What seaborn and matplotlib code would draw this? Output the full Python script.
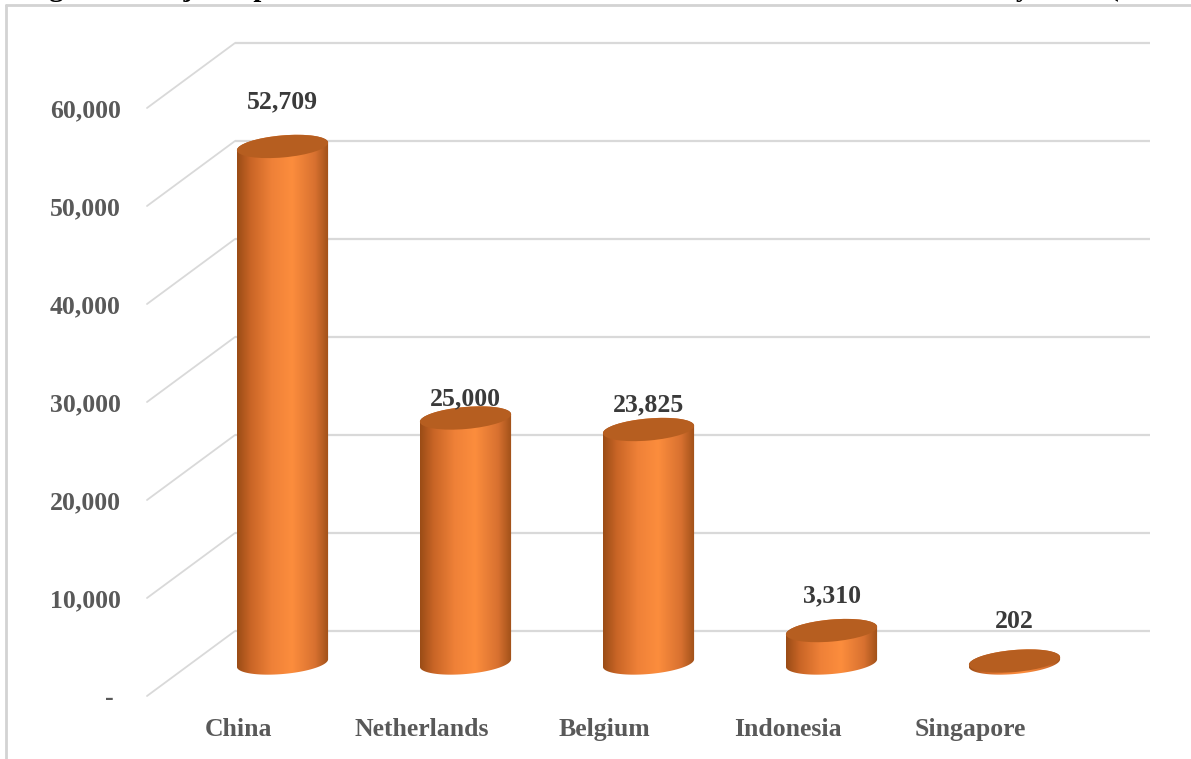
import numpy as np
import pandas as pd
import matplotlib
matplotlib.use("Agg")
import matplotlib.pyplot as plt
import matplotlib.transforms as mtransforms
from matplotlib.patches import Ellipse, PathPatch
from matplotlib.path import Path
from matplotlib.lines import Line2D
from matplotlib.colors import LinearSegmentedColormap
import seaborn as sns

# ---------------- data ----------------
countries = ["China", "Netherlands", "Belgium", "Indonesia", "Singapore"]
values = [52709, 25000, 23825, 3310, 202]
value_labels = ["52,709", "25,000", "23,825", "3,310", "202"]
ytick_values = [0, 10000, 20000, 30000, 40000, 50000, 60000]
ytick_labels = ["- ", "10,000", "20,000", "30,000", "40,000", "50,000", "60,000"]
label_lift_px = [45, 19, 25, 35, 40]
title_text = ("Figure 3: Major exporters of this article from nations to the world "
              "trade in 2021 by value (thousand USD)")

# ---------------- style ----------------
sns.set_style("white")
plt.rcParams["font.family"] = ["Liberation Serif", "DejaVu Serif"]

W, H, DPI = 1191, 759, 100
fig = plt.figure(figsize=(W / DPI, H / DPI), dpi=DPI)
fig.patch.set_facecolor("white")

# front plane of the pseudo-3D box
ax = fig.add_axes([147 / W, (H - 696) / H, 915 / W, 588 / H])
ax.set_facecolor("none")

df = pd.DataFrame({"country": countries, "value": values})
sns.barplot(data=df, x="country", y="value", width=0.5, color="#f08030",
            saturation=1, errorbar=None, ax=ax, zorder=2)
ax.set_xlim(-0.5, len(countries) - 0.5)
ax.set_ylim(0, 60000)

# depth offsets (pixels): cylinder plane = middle, back wall = rear
cyl_trans = mtransforms.offset_copy(ax.transData, fig=fig, x=44, y=33, units="dots")
back_trans = mtransforms.offset_copy(ax.transData, fig=fig, x=88, y=65, units="dots")

# back-wall gridlines
grid_color = "#d9d9d9"
ax.hlines(ytick_values, -0.5, len(countries) - 0.5, transform=back_trans,
          color=grid_color, lw=1.6, zorder=0, clip_on=False)
# side-wall diagonal lines
inv = ax.transData.inverted()
for v in ytick_values:
    bx, by = inv.transform(back_trans.transform((-0.5, v)))
    ax.plot([-0.5, bx], [v, by], color=grid_color, lw=1.3, zorder=0, clip_on=False)

# cylinders
cmap = LinearSegmentedColormap.from_list(
    "cyl", [(0.0, "#9a4c16"), (0.15, "#c96526"), (0.38, "#ef8138"),
            (0.6, "#fc8d3d"), (0.85, "#d87130"), (1.0, "#9f5018")])
grad = np.linspace(0, 1, 256).reshape(1, -1)
bars = [p for p in ax.patches][: len(values)]
px_per_unit_x = ax.bbox.width / len(countries)
ell_h_px = 22
theta = np.deg2rad(5)


def ellipse_arc(a, b, t, yoff):
    x = a * np.cos(t)
    y = b * np.sin(t)
    xr = x * np.cos(theta) - y * np.sin(theta)
    yr = x * np.sin(theta) + y * np.cos(theta) + yoff
    return np.column_stack([xr, yr])


for p, v, lbl, lift in zip(bars, values, value_labels, label_lift_px):
    p.set_transform(cyl_trans)
    p.set_visible(False)
    x0, w = p.get_x(), p.get_width()
    xc = x0 + w / 2
    a = w * px_per_unit_x / 2.0
    b = ell_h_px / 2.0
    h_px = ax.transData.transform((0, v))[1] - ax.transData.transform((0, 0))[1]

    # silhouette of the cylinder (bottom half-ellipse + sides + top half-ellipse)
    t0 = np.arctan2(-b * np.sin(theta), a * np.cos(theta))
    bottom = ellipse_arc(a, b, np.linspace(t0, t0 - np.pi, 80), 0.0)
    top = ellipse_arc(a, b, np.linspace(t0 + np.pi, t0, 80), h_px)
    verts = np.vstack([bottom, top, bottom[:1]]) / DPI
    codes = [Path.MOVETO] + [Path.LINETO] * (len(verts) - 2) + [Path.CLOSEPOLY]
    base_tr = fig.dpi_scale_trans + mtransforms.ScaledTranslation(xc, 0, cyl_trans)
    body = PathPatch(Path(verts, codes), transform=base_tr,
                     facecolor="none", edgecolor="none")
    ax.add_patch(body)

    im = ax.imshow(grad, cmap=cmap, extent=[x0, x0 + w, -6000, v + 3000], aspect="auto",
                   transform=cyl_trans, zorder=2, interpolation="bilinear")
    im.set_clip_path(body)

    # top face
    tr_t = fig.dpi_scale_trans + mtransforms.ScaledTranslation(xc, v, cyl_trans)
    et = Ellipse((0, 0), 2 * a / DPI, 2 * b / DPI, angle=np.rad2deg(theta),
                 transform=tr_t, facecolor="#b65e20", edgecolor="none", zorder=3)
    ax.add_patch(et)

    ax.annotate(lbl, xy=(xc, v), xycoords=cyl_trans, xytext=(0, lift),
                textcoords="offset pixels", ha="center", va="center",
                fontsize=18.5, fontweight="bold", color="#3a3a3a", zorder=5)

ax.set_xlim(-0.5, len(countries) - 0.5)
ax.set_ylim(0, 60000)

# axes text
ax.set_yticks(ytick_values, ytick_labels)
ax.set_xticks(range(len(countries)), countries)
ax.set_xlabel("")
ax.set_ylabel("")
ax.tick_params(axis="y", length=0, pad=19, labelsize=18.5, labelcolor="#595959")
ax.tick_params(axis="x", length=0, pad=16, labelsize=18.5, labelcolor="#595959")
for t in ax.get_yticklabels() + ax.get_xticklabels():
    t.set_fontweight("bold")
for s in ax.spines.values():
    s.set_visible(False)
ax.grid(False)

# outer chart frame (cropped screenshot)
frame_c = "#d3d3d3"
fig.add_artist(Line2D([5.5 / W, 5.5 / W], [0, 1 - 4.5 / H], transform=fig.transFigure,
                      color=frame_c, lw=2))
fig.add_artist(Line2D([5.5 / W, 1], [1 - 4.5 / H, 1 - 4.5 / H], transform=fig.transFigure,
                      color=frame_c, lw=2))

# cropped title (only descenders visible, as in the source screenshot)
fig.text(24 / W, 1 + 4 / H, title_text, ha="left", va="baseline", fontsize=20.5,
         fontweight="bold", color="black", zorder=5)

fig.savefig("out.png", dpi=DPI)
